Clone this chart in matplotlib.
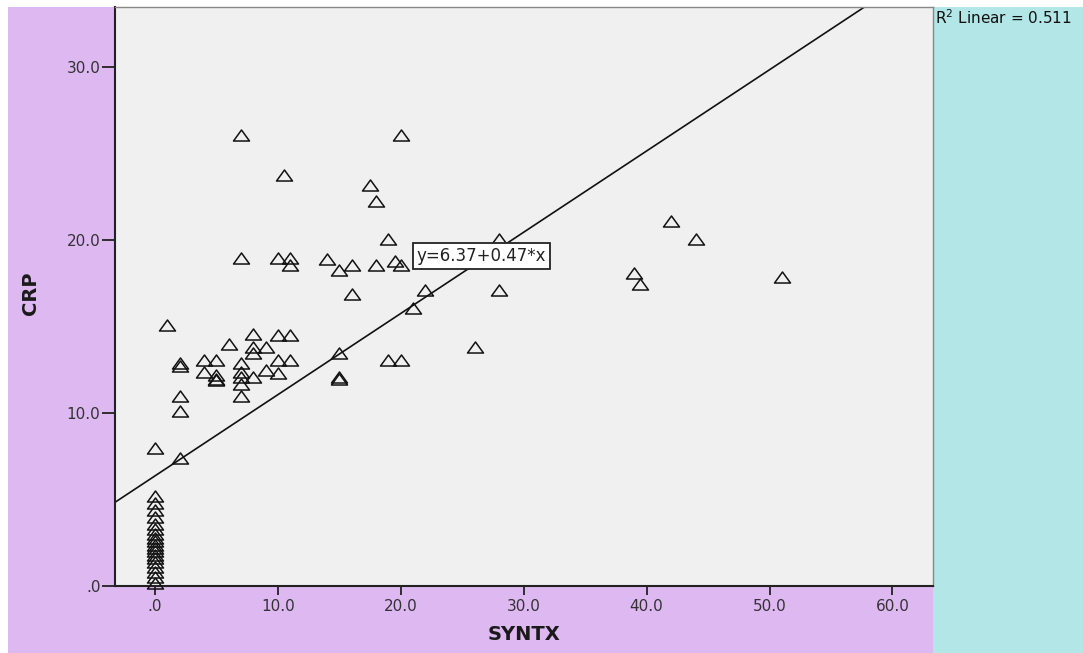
import numpy as np
import matplotlib
matplotlib.use("Agg")
import matplotlib.pyplot as plt
from matplotlib.path import Path
from matplotlib.patches import Rectangle
from matplotlib.ticker import FixedLocator, FuncFormatter

plt.rcParams['font.family'] = ['DejaVu Sans']

# ---- data ----
syntx = [0]*19 + [0,
         1,
         2, 2, 2, 2, 2,
         4, 4,
         5, 5, 5, 5,
         6,
         7, 7, 7, 7, 7, 7, 7,
         8, 8, 8, 8,
         9, 9,
         10, 10, 10, 10,
         10.5,
         11, 11, 11, 11,
         14,
         15, 15, 15, 15,
         16, 16,
         17.5,
         18, 18,
         19, 19,
         19.5,
         20, 20, 20,
         21, 22, 26,
         28, 28,
         39, 39.5,
         42, 44,
         51]
crp = [5.2, 4.8, 4.4, 4.0, 3.6, 3.3, 3.0, 2.8, 2.6, 2.4, 2.2, 2.0, 1.8, 1.6, 1.4,
       1.1, 0.8, 0.5, 0.2] + [8.0,
       15.1,
       12.9, 12.7, 11.0, 10.1, 7.4,
       13.1, 12.4,
       13.1, 12.2, 12.0, 11.9,
       14.0,
       26.1, 19.0, 12.9, 12.4, 12.1, 11.7, 11.0,
       14.6, 13.8, 13.5, 12.1,
       13.8, 12.5,
       19.0, 14.5, 13.1, 12.3,
       23.8,
       19.0, 18.6, 14.5, 13.1,
       18.9,
       18.3, 13.5, 12.1, 12.0,
       18.6, 16.9,
       23.2,
       22.3, 18.6,
       20.1, 13.1,
       18.8,
       26.1, 18.6, 13.1,
       16.1, 17.1, 13.8,
       20.1, 17.1,
       18.1, 17.5,
       21.1, 20.1,
       17.9]

fit_intercept = 6.37
fit_slope = 0.47
r2_text = "R$^2$ Linear = 0.511"
eq_text = "y=6.37+0.47*x"

x_ticks = [0, 10, 20, 30, 40, 50, 60]
y_ticks = [0, 10, 20, 30]

W, H = 1083, 653
fig = plt.figure(figsize=(W/100, H/100), dpi=100)
fig.patch.set_facecolor('white')

purple = '#DEB8F1'
cyan = '#B3E6E6'
fig.patches.append(Rectangle((8/W, 0), (933-8)/W, (H-7)/H, transform=fig.transFigure,
                             facecolor=purple, edgecolor='none', zorder=0))
fig.patches.append(Rectangle((933/W, 0), (W-933)/W, (H-7)/H, transform=fig.transFigure,
                             facecolor=cyan, edgecolor='none', zorder=0))

ax = fig.add_axes([115/W, (H-586)/H, (933-115)/W, (586-7)/H])
ax.set_zorder(2)
ax.set_facecolor('#F0F0F0')
ax.set_xlim(-3.25, 63.3)
ax.set_ylim(0, 33.5)

tri = Path([(-1, -0.69), (1, -0.69), (0, 0.69), (-1, -0.69)],
           [Path.MOVETO, Path.LINETO, Path.LINETO, Path.CLOSEPOLY])
ax.plot(syntx, crp, linestyle='none', marker=tri, markersize=11.5,
        markerfacecolor='none', markeredgecolor='#111111', markeredgewidth=1.1,
        zorder=3, clip_on=False)

ax.axline((0, fit_intercept), slope=fit_slope, color='#111111', linewidth=1.2, zorder=2)

ax.text(21.3, 19.1, eq_text, fontsize=12, va='center', ha='left', color='#222222',
        bbox=dict(boxstyle='square,pad=0.25', facecolor='white', edgecolor='#222222',
                  linewidth=1.3), zorder=5)

fmt = FuncFormatter(lambda v, p: ".0" if v == 0 else f"{v:.1f}")
ax.xaxis.set_major_locator(FixedLocator(x_ticks))
ax.yaxis.set_major_locator(FixedLocator(y_ticks))
ax.xaxis.set_major_formatter(fmt)
ax.yaxis.set_major_formatter(fmt)
ax.tick_params(axis='both', direction='out', width=1.3, color='#222222',
               labelsize=11, labelcolor='#333333')
ax.tick_params(axis='x', length=6.5, pad=3)
ax.tick_params(axis='y', length=9.5, pad=1)

for s in ['left', 'bottom']:
    ax.spines[s].set_color('#222222')
    ax.spines[s].set_linewidth(1.5)
for s in ['top', 'right']:
    ax.spines[s].set_color('#888888')
    ax.spines[s].set_linewidth(1.0)

ax.set_xlabel('SYNTX', fontsize=14, fontweight='bold', color='#1a1a1a', labelpad=8)
ax.set_ylabel('CRP', fontsize=14, fontweight='bold', color='#1a1a1a')
ax.yaxis.set_label_coords((40 - 115) / (933 - 115), (586 - 293) / (586 - 7))

fig.text(935/W, 1 - 18/H, r2_text, fontsize=11, ha='left', va='center', color='#111111')

fig.savefig('out.png', dpi=100)
